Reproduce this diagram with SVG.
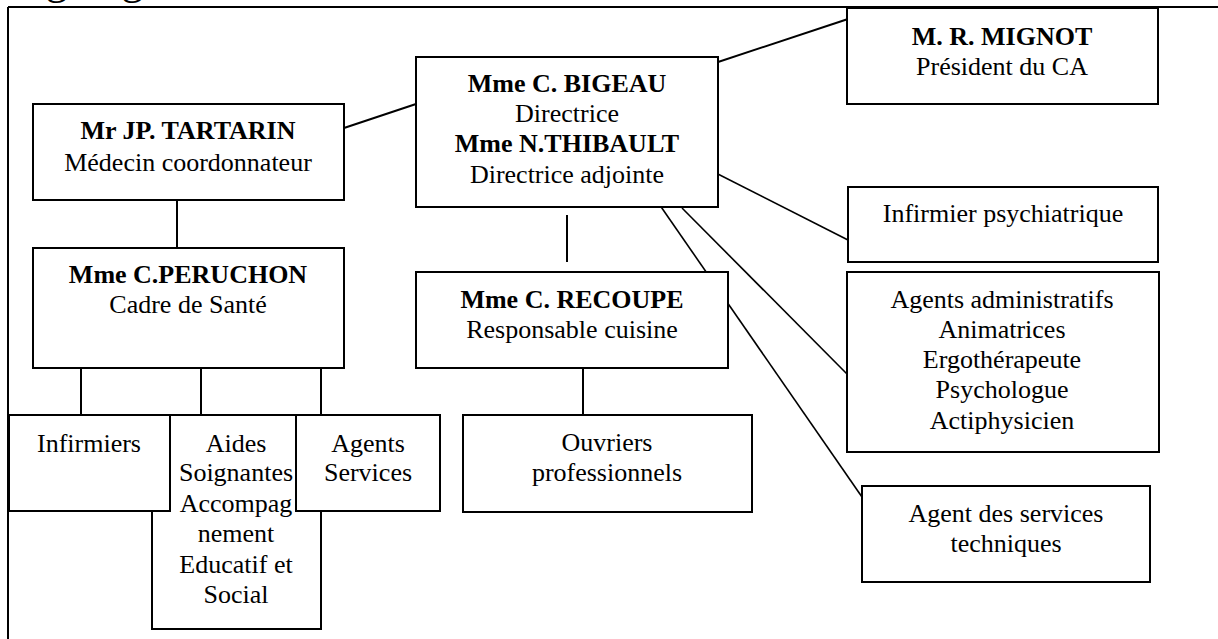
<svg xmlns="http://www.w3.org/2000/svg" width="1218" height="639" viewBox="0 0 1218 639">
<style>
.box{fill:#fff;stroke:#000;stroke-width:2}
.t{font-family:'Liberation Serif','Times New Roman',Times,'DejaVu Serif',serif;font-size:26px;fill:#000;text-anchor:middle}
.b{font-weight:bold}
.c{stroke:#000;stroke-width:2;fill:none}
.d{stroke:#000;stroke-width:1.6;fill:none}
</style>
<rect x="0" y="0" width="1218" height="639" fill="#fff"/>
<text x="0" y="-6" font-family="Liberation Serif, Times New Roman, DejaVu Serif, serif" font-size="44">Organigramme</text>
<g id="frame">
<line class="c" x1="8" y1="7" x2="1218" y2="7"/>
<line class="c" x1="8" y1="7" x2="8" y2="639"/>
</g>
<g id="connectors">
<line class="c" x1="344" y1="128" x2="416" y2="104"/>
<line class="c" x1="706" y1="66" x2="848" y2="19"/>
<line class="d" x1="706" y1="168" x2="848" y2="240"/>
<line class="d" x1="682" y1="208" x2="848" y2="375"/>
<line class="d" x1="657" y1="201" x2="862" y2="497"/>
<line class="c" x1="567" y1="215" x2="567" y2="262"/>
<line class="c" x1="583" y1="368" x2="583" y2="415"/>
<line class="c" x1="177" y1="200" x2="177" y2="248"/>
<line class="c" x1="81" y1="368" x2="81" y2="415"/>
<line class="c" x1="201" y1="368" x2="201" y2="415"/>
<line class="c" x1="321" y1="368" x2="321" y2="415"/>
</g>
<g id="mignot">
<rect class="box" x="847" y="8" width="311" height="96"/>
<text class="t b" x="1002" y="45" font-family="Liberation Serif, serif">M. R. MIGNOT</text>
<text class="t" x="1002" y="75" font-family="Liberation Serif, serif">Président du CA</text>
</g>
<g id="bigeau">
<rect class="box" x="416" y="57" width="302" height="150"/>
<text class="t b" x="567" y="92">Mme C. BIGEAU</text>
<text class="t" x="567" y="122">Directrice</text>
<text class="t b" x="567" y="152">Mme N.THIBAULT</text>
<text class="t" x="567" y="183">Directrice adjointe</text>
</g>
<g id="tartarin">
<rect class="box" x="33" y="104" width="311" height="96"/>
<text class="t b" x="188" y="139">Mr JP. TARTARIN</text>
<text class="t" x="188" y="171">Médecin coordonnateur</text>
</g>
<g id="peruchon">
<rect class="box" x="33" y="248" width="311" height="120"/>
<text class="t b" x="188" y="283">Mme C.PERUCHON</text>
<text class="t" x="188" y="313">Cadre de Santé</text>
</g>
<g id="recoupe">
<rect class="box" x="416" y="272" width="312" height="96"/>
<text class="t b" x="572" y="308">Mme C. RECOUPE</text>
<text class="t" x="572" y="338">Responsable cuisine</text>
</g>
<g id="infirmier-psy">
<rect class="box" x="848" y="187" width="310" height="75"/>
<text class="t" x="1003" y="222">Infirmier psychiatrique</text>
</g>
<g id="agents-admin">
<rect class="box" x="847" y="272" width="312" height="180"/>
<text class="t" x="1002" y="308">Agents administratifs</text>
<text class="t" x="1002" y="338">Animatrices</text>
<text class="t" x="1002" y="368">Ergothérapeute</text>
<text class="t" x="1002" y="398">Psychologue</text>
<text class="t" x="1002" y="429">Actiphysicien</text>
</g>
<g id="agent-tech">
<rect class="box" x="862" y="486" width="288" height="96"/>
<text class="t" x="1006" y="522">Agent des services</text>
<text class="t" x="1006" y="552">techniques</text>
</g>
<g id="ouvriers">
<rect class="box" x="463" y="415" width="289" height="97"/>
<text class="t" x="607" y="451">Ouvriers</text>
<text class="t" x="607" y="481">professionnels</text>
</g>
<g id="aides">
<rect class="box" x="152" y="415" width="169" height="214"/>
<text class="t" x="236" y="452">Aides</text>
<text class="t" x="236" y="481">Soignantes</text>
<text class="t" x="236" y="512">Accompag</text>
<text class="t" x="236" y="542">nement</text>
<text class="t" x="236" y="573">Educatif et</text>
<text class="t" x="236" y="603">Social</text>
</g>
<g id="infirmiers">
<rect class="box" x="9" y="415" width="161" height="96"/>
<text class="t" x="89" y="452">Infirmiers</text>
</g>
<g id="agents-services">
<rect class="box" x="296" y="415" width="144" height="96"/>
<text class="t" x="368" y="452">Agents</text>
<text class="t" x="368" y="481">Services</text>
</g>
</svg>
